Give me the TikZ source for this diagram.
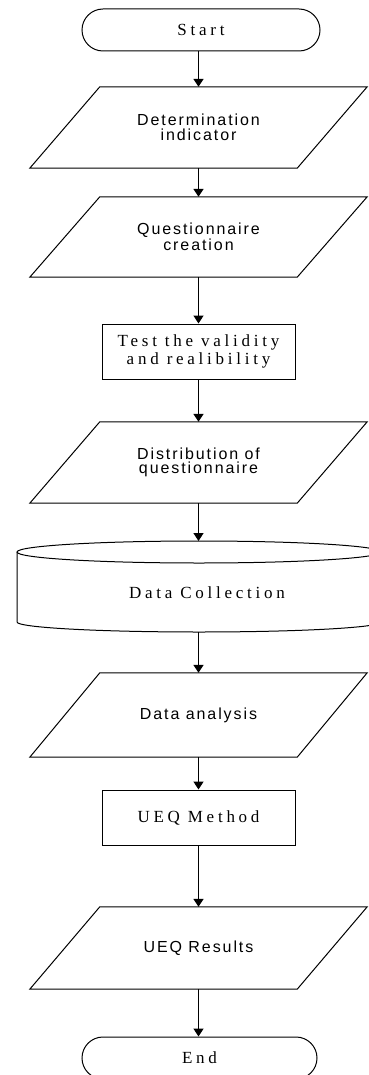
\documentclass[tikz,border=0pt]{standalone}
\usepackage{fontspec}
\setmainfont{Liberation Serif}
\newfontfamily\serifsp[LetterSpace=22]{Liberation Serif}
\newfontfamily\sanssp[LetterSpace=12]{Liberation Sans}
\usetikzlibrary{shapes.misc,arrows.meta}
\newcommand\parabox[1]{\draw[line width=1pt]
  ([xshift=-35pt]#1.south west) -- ([xshift=35pt]#1.north west) --
  ([xshift=35pt]#1.north east) -- ([xshift=-35pt]#1.south east) -- cycle;}
\begin{document}
\begin{tikzpicture}[x=1pt,y=1pt,
  base/.style={line width=1pt, draw=black, inner sep=0pt, align=center},
  term/.style={base, rounded rectangle, minimum width=238pt, minimum height=42pt,
    font=\serifsp\fontsize{17}{19}\selectfont},
  io/.style={inner sep=0pt, align=center, rectangle, minimum width=267pt,
    font=\sanssp\fontsize{16}{14.5}\selectfont},
  proc/.style={base, rectangle, minimum width=193pt, minimum height=55pt,
    font=\serifsp\fontsize{17}{18.5}\selectfont},
  storetext/.style={inner sep=0pt, font=\serifsp\fontsize{17}{18}\selectfont},
  conn/.style={line width=1.6pt, -{Triangle[length=8pt,width=10pt]}}]
\fill[white] (0,0) rectangle (368,-1075);
\useasboundingbox (0,0) rectangle (368,-1075);

\node[term] (start) at (201,-30) {Start};
\node[io, minimum height=81pt] (p1) at (198.5,-127.5) {Determination\\indicator};
\parabox{p1}
\node[io, minimum height=80pt] (p2) at (198.5,-237) {Questionnaire\\creation};
\parabox{p2}
\node[proc] (r1) at (198.5,-351.5) {Test the validity\\and realibility};
\node[io, minimum height=81pt] (p3) at (198.5,-462.5) {Distribution of\\questionnaire};
\parabox{p3}

% stored data (cylinder)
\draw[line width=1pt] (199,-552) ellipse[x radius=182, y radius=11];
\draw[line width=1pt] (17,-552) -- (17,-622)
  arc[start angle=180, end angle=360, x radius=182, y radius=10] -- (381,-552);
\coordinate (dctop) at (198.5,-541);
\coordinate (dcbot) at (198.5,-632);
\node[storetext] (dc) at (207,-593) {Data Collection};

\node[io, minimum height=84pt] (p4) at (198.5,-715) {Data analysis};
\parabox{p4}
\node[proc] (r2) at (198.5,-817.5) {UEQ Method};
\node[io, minimum height=82pt] (p5) at (198.5,-948) {UEQ Results};
\parabox{p5}
\node[term, minimum width=235pt] (end) at (199.5,-1058) {End};

\draw[conn] (start.south -| p1.north) -- (p1.north);
\draw[conn] (p1.south) -- (p2.north);
\draw[conn] (p2.south) -- (r1.north);
\draw[conn] (r1.south) -- (p3.north);
\draw[conn] (p3.south) -- (dctop);
\draw[conn] (dcbot) -- (p4.north);
\draw[conn] (p4.south) -- (r2.north);
\draw[conn] (r2.south) -- (p5.north);
\draw[conn] (p5.south) -- (end.north -| p5.south);
\end{tikzpicture}
\end{document}
